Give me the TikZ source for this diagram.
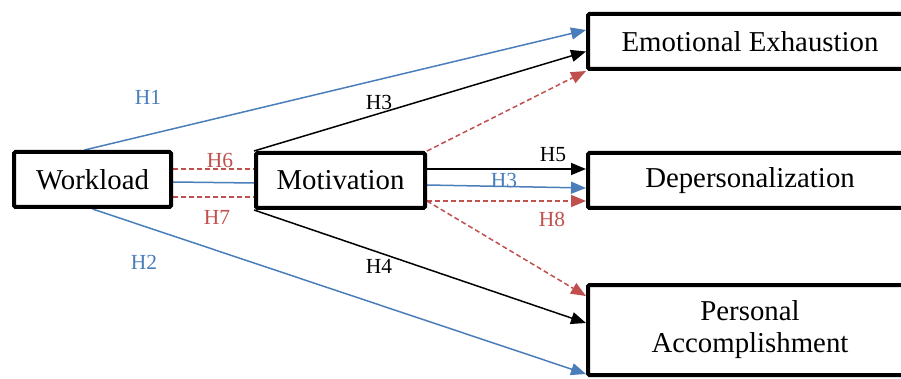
\documentclass[tikz,border=0pt]{standalone}
\usepackage{fontspec}
\setmainfont{Liberation Serif}
\usetikzlibrary{arrows.meta,calc,backgrounds}
\definecolor{hblue}{HTML}{4A7EBB}
\definecolor{hred}{HTML}{C0504D}
\tikzset{
  box/.style={draw=black, line width=4pt, fill=white, rounded corners=1.5pt, align=center,
    font=\fontsize{28.8}{32}\selectfont, inner sep=0pt},
  conn/.style={line width=1.5pt},
  tip/.style={-{Triangle[length=15pt,width=12pt]}},
  bluel/.style={conn, draw=hblue},
  redl/.style={conn, draw=hred, dash pattern=on 5pt off 3pt},
  blackl/.style={conn, draw=black},
  hlab/.style={font=\fontsize{21.5}{24}\selectfont, inner sep=0pt},
}
\begin{document}
\begin{tikzpicture}[x=1pt,y=-1pt]
\useasboundingbox (0,0) rectangle (901,379);
\clip (0,0) rectangle (901,379);
\node[box, minimum width=157pt, minimum height=55pt] (wl) at (92.5,179.5) {Workload};
\node[box, minimum width=169pt, minimum height=55pt] (mo) at (340.5,180.5) {Motivation};
\node[box, minimum width=324pt, minimum height=55pt] (ee) at (750,41.5) {Emotional Exhaustion};
\node[box, minimum width=324pt, minimum height=55pt] (dp) at (750,180.5) {Depersonalization};
\node[box, minimum width=324pt, minimum height=90pt] (pa) at (750,330) {Personal\\Accomplishment};
\begin{scope}[on background layer]
  \draw[bluel,tip] ([xshift=-8pt]wl.north) -- ([yshift=11.5pt]ee.west);
  \draw[blackl,tip] (mo.north west) -- ([yshift=-10pt]ee.west);
  \draw[redl,tip] (mo.north east) -- (ee.south west);
  \draw[redl] ([yshift=10.5pt]wl.east) -- ([yshift=11.5pt]mo.west);
  \draw[bluel] ([yshift=-2.5pt]wl.east) -- ([yshift=-2.5pt]mo.west);
  \draw[redl] ([yshift=-17.5pt]wl.east) -- ([yshift=-16.5pt]mo.west);
  \draw[bluel,tip] (wl.south) -- ([yshift=3pt]pa.south west);
  \draw[blackl,tip] (mo.south west) -- ([yshift=7pt]pa.west);
  \draw[blackl,tip] ([yshift=11.5pt]mo.east) -- ([yshift=11.5pt]dp.west);
  \draw[bluel,tip] ([yshift=-4.5pt]mo.east) -- ([yshift=-7.5pt]dp.west);
  \draw[redl,tip] ([yshift=-20.5pt]mo.east) -- ([yshift=-20.5pt]dp.west);
  \draw[redl,tip] ([yshift=-20.5pt]mo.east) -- ([yshift=34pt]pa.west);
\end{scope}
\node[hlab, text=hblue] (h1) at (148,97) {H1};
\node[hlab, text=black] (h3a) at (379,102) {H3};
\node[hlab, text=hred] (h6) at (220,160) {H6};
\node[hlab, text=hred] (h7) at (217,217) {H7};
\node[hlab, text=hblue] (h2) at (144,262) {H2};
\node[hlab, text=black] (h4) at (379,266) {H4};
\node[hlab, text=black] (h5) at (553,155) {H5};
\node[hlab, text=hblue] (h3b) at (504,180) {H3};
\node[hlab, text=hred] (h8) at (552,219) {H8};
\end{tikzpicture}
\end{document}
